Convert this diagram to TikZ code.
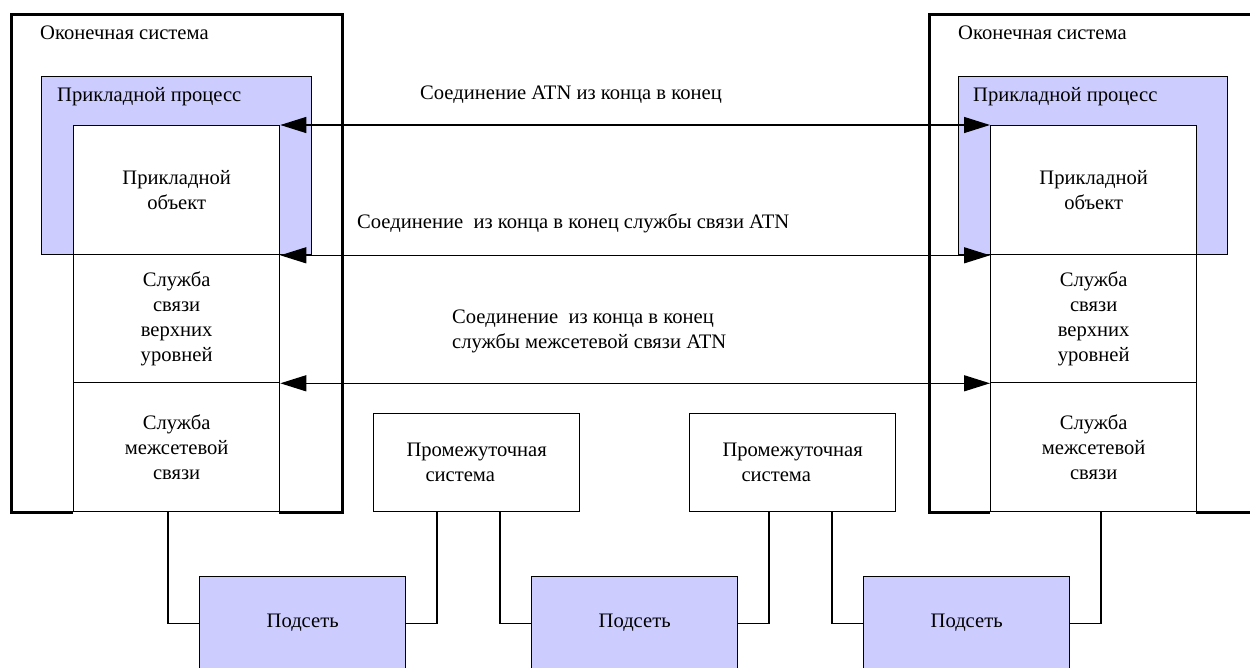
\documentclass[tikz,border=0pt]{standalone}
\usepackage{fontspec}
\setmainfont{Liberation Serif}
\usetikzlibrary{arrows.meta}
\definecolor{lav}{RGB}{204,204,255}
\begin{document}
\begin{tikzpicture}[x=1pt,y=-1pt,
  font=\fontsize{20.6}{25}\selectfont,
  outerbox/.style={draw=black,line width=3pt,fill=white,anchor=north west,inner sep=0pt},
  procbox/.style={draw=black,line width=1.2pt,fill=lav,anchor=north west,inner sep=0pt},
  cellbox/.style={draw=black,line width=1.3pt,fill=white,anchor=north west,inner sep=0pt,
                  minimum width=206pt,align=center},
  midbox/.style={draw=black,line width=1.3pt,fill=white,anchor=north west,inner sep=0pt,
                 minimum width=206pt,minimum height=98pt,align=left},
  subbox/.style={draw=black,line width=1.3pt,fill=lav,anchor=north west,inner sep=0pt,
                 minimum width=206pt,minimum height=93pt},
  lbl/.style={anchor=west,inner sep=0pt},
  conn/.style={draw=black,line width=1.3pt},
  link/.style={draw=black,line width=1.3pt,{Triangle[length=26pt,width=16pt]}-{Triangle[length=26pt,width=16pt]}}
]
\clip (0,0) rectangle (1250,668);
\fill[white] (0,0) rectangle (1250,668);

% left end system
\node[outerbox,minimum width=331pt,minimum height=498pt] (lout) at (10,13) {};
\fill[white] (73,509) rectangle (279,514);
\node[procbox,minimum width=270pt,minimum height=178pt] (lproc) at (41,76) {};
\node[lbl] (loutl) at (40,33) {Оконечная система};
\node[lbl] (lprocl) at (57,97) {Прикладной процесс};
\node[cellbox,minimum height=129pt] (lobj) at (73,125) {Прикладной\\объект};
\node[cellbox,minimum height=128pt] (lups) at (73,254) {Служба\\связи\\верхних\\уровней};
\node[cellbox,minimum height=129pt] (lnet) at (73,382) {Служба\\межсетевой\\связи};

% right end system
\node[outerbox,minimum width=340pt,minimum height=498pt] (rout) at (928,13) {};
\fill[white] (990,509) rectangle (1196,514);
\node[procbox,minimum width=269pt,minimum height=178pt] (rproc) at (958,76) {};
\node[lbl] (routl) at (958,33) {Оконечная система};
\node[lbl] (rprocl) at (973,97) {Прикладной процесс};
\node[cellbox,minimum height=129pt] (robj) at (990,125) {Прикладной\\объект};
\node[cellbox,minimum height=128pt] (rups) at (990,254) {Служба\\связи\\верхних\\уровней};
\node[cellbox,minimum height=129pt] (rnet) at (990,382) {Служба\\межсетевой\\связи};

% intermediate systems
\node[midbox] (int1) at (373,413) {Промежуточная\\\hspace*{19pt}система};
\node[midbox] (int2) at (689,413) {Промежуточная\\\hspace*{19pt}система};

% subnetworks
\node[subbox] (sub1) at (199,576) {Подсеть};
\node[subbox] (sub2) at (531,576) {Подсеть};
\node[subbox] (sub3) at (863,576) {Подсеть};

% end-to-end connections
\draw[link] (lobj.north east) -- (robj.north west);
\draw[link] (lobj.south east) -- (robj.south west);
\draw[link] (lups.south east) -- (rups.south west);
\node[lbl] (c1l) at (420,95) {Соединение ATN из конца в конец};
\node[lbl] (c2l) at (357,223) {Соединение\ \ из конца в конец службы связи ATN};
\node[lbl,align=left,anchor=north west] (c3l) at (452,310) {Соединение\ \ из конца в конец\\службы межсетевой связи ATN};

% subnetwork attachments
\draw[conn] ([xshift=95pt]lnet.south west) |- (sub1.west);
\draw[conn] ([xshift=64pt]int1.south west) |- (sub1.east);
\draw[conn] ([xshift=127pt]int1.south west) |- (sub2.west);
\draw[conn] ([xshift=80pt]int2.south west) |- (sub2.east);
\draw[conn] ([xshift=143pt]int2.south west) |- (sub3.west);
\draw[conn] ([xshift=111pt]rnet.south west) |- (sub3.east);
\end{tikzpicture}
\end{document}
